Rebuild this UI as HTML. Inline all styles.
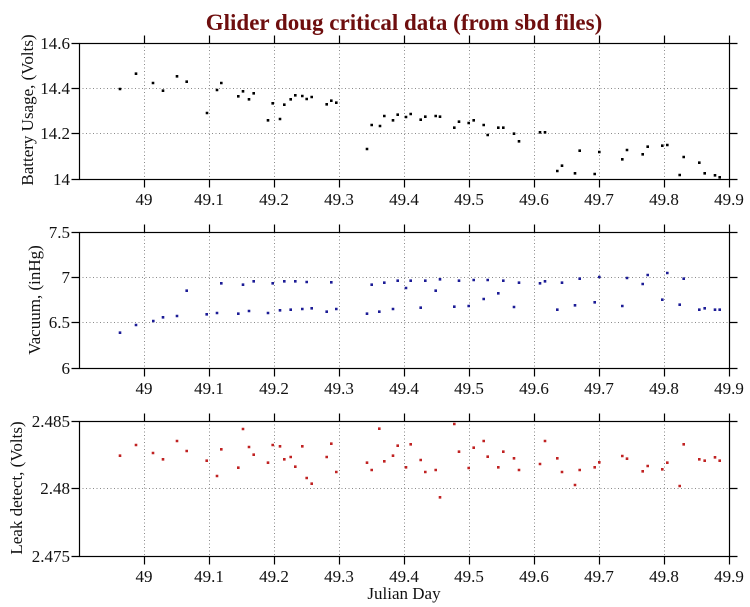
<!DOCTYPE html>
<html><head><meta charset="utf-8"><style>
html,body{margin:0;padding:0;background:#fff;}
svg{display:block;}
text{font-family:"Liberation Serif",serif;fill:#111;}
</style></head><body>
<svg width="750" height="607" viewBox="0 0 750 607" xmlns="http://www.w3.org/2000/svg">
<rect width="750" height="607" fill="#fff"/>
<text x="404" y="30" text-anchor="middle" font-size="23" font-weight="bold" style="fill:#6e0e0e">Glider doug critical data (from sbd files)</text>

<!-- grids -->
<g stroke="#8a8a8a" stroke-width="1" stroke-dasharray="1 2.5" fill="none">
<path d="M144.5 43V179M209.5 43V179M274.5 43V179M339.5 43V179M404.5 43V179M469.5 43V179M534.5 43V179M599.5 43V179M664.5 43V179M79 88.5H729M79 133.5H729"/>
<path d="M144.5 232.5V368.5M209.5 232.5V368.5M274.5 232.5V368.5M339.5 232.5V368.5M404.5 232.5V368.5M469.5 232.5V368.5M534.5 232.5V368.5M599.5 232.5V368.5M664.5 232.5V368.5M79 277.5H729M79 322.5H729"/>
<path d="M144.5 421V556M209.5 421V556M274.5 421V556M339.5 421V556M404.5 421V556M469.5 421V556M534.5 421V556M599.5 421V556M664.5 421V556M79 488.5H729"/>
</g>

<!-- frames and ticks -->
<g stroke="#000" stroke-width="1.2" fill="none">
<rect x="79.5" y="43.5" width="650" height="136"/>
<path d="M144.5 43.5v-8M209.5 43.5v-8M274.5 43.5v-8M339.5 43.5v-8M404.5 43.5v-8M469.5 43.5v-8M534.5 43.5v-8M599.5 43.5v-8M664.5 43.5v-8M729.5 43.5v-8
M144.5 179.5v8M209.5 179.5v8M274.5 179.5v8M339.5 179.5v8M404.5 179.5v8M469.5 179.5v8M534.5 179.5v8M599.5 179.5v8M664.5 179.5v8M729.5 179.5v8
M79.5 43.5h-8M79.5 88.5h-8M79.5 133.5h-8M79.5 179.5h-8M729.5 43.5h8M729.5 88.5h8M729.5 133.5h8M729.5 179.5h8"/>
<rect x="79.5" y="232.5" width="650" height="136"/>
<path d="M144.5 232.5v-8M209.5 232.5v-8M274.5 232.5v-8M339.5 232.5v-8M404.5 232.5v-8M469.5 232.5v-8M534.5 232.5v-8M599.5 232.5v-8M664.5 232.5v-8M729.5 232.5v-8
M144.5 368.5v8M209.5 368.5v8M274.5 368.5v8M339.5 368.5v8M404.5 368.5v8M469.5 368.5v8M534.5 368.5v8M599.5 368.5v8M664.5 368.5v8M729.5 368.5v8
M79.5 232.5h-8M79.5 277.5h-8M79.5 322.5h-8M79.5 368.5h-8M729.5 232.5h8M729.5 277.5h8M729.5 322.5h8M729.5 368.5h8"/>
<rect x="79.5" y="421.5" width="650" height="135"/>
<path d="M144.5 421.5v-8M209.5 421.5v-8M274.5 421.5v-8M339.5 421.5v-8M404.5 421.5v-8M469.5 421.5v-8M534.5 421.5v-8M599.5 421.5v-8M664.5 421.5v-8M729.5 421.5v-8
M144.5 556.5v8M209.5 556.5v8M274.5 556.5v8M339.5 556.5v8M404.5 556.5v8M469.5 556.5v8M534.5 556.5v8M599.5 556.5v8M664.5 556.5v8M729.5 556.5v8
M79.5 421.5h-8M79.5 488.5h-8M79.5 556.5h-8M729.5 421.5h8M729.5 488.5h8M729.5 556.5h8"/>
</g>

<!-- y tick labels -->
<g font-size="17" text-anchor="end">
<text x="70" y="49">14.6</text><text x="70" y="94">14.4</text><text x="70" y="139">14.2</text><text x="70" y="185">14</text>
<text x="70" y="238">7.5</text><text x="70" y="283">7</text><text x="70" y="328">6.5</text><text x="70" y="374">6</text>
<text x="70" y="427">2.485</text><text x="70" y="494">2.48</text><text x="70" y="562">2.475</text>
</g>

<!-- x tick labels -->
<g font-size="17" text-anchor="middle">
<text x="144" y="205">49</text><text x="209" y="205">49.1</text><text x="274" y="205">49.2</text><text x="339" y="205">49.3</text><text x="404" y="205">49.4</text><text x="469" y="205">49.5</text><text x="534" y="205">49.6</text><text x="599" y="205">49.7</text><text x="664" y="205">49.8</text><text x="729" y="205">49.9</text>
<text x="144" y="394">49</text><text x="209" y="394">49.1</text><text x="274" y="394">49.2</text><text x="339" y="394">49.3</text><text x="404" y="394">49.4</text><text x="469" y="394">49.5</text><text x="534" y="394">49.6</text><text x="599" y="394">49.7</text><text x="664" y="394">49.8</text><text x="729" y="394">49.9</text>
<text x="144" y="582">49</text><text x="209" y="582">49.1</text><text x="274" y="582">49.2</text><text x="339" y="582">49.3</text><text x="404" y="582">49.4</text><text x="469" y="582">49.5</text><text x="534" y="582">49.6</text><text x="599" y="582">49.7</text><text x="664" y="582">49.8</text><text x="729" y="582">49.9</text>
<text x="404" y="599">Julian Day</text>
</g>

<!-- axis labels -->
<g font-size="17" text-anchor="middle">
<text transform="translate(33,110) rotate(-90)">Battery Usage, (Volts)</text>
<text transform="translate(40,300) rotate(-90)">Vacuum, (inHg)</text>
<text transform="translate(22,488) rotate(-90)">Leak detect, (Volts)</text>
</g>

<!-- data -->
<g fill="none" stroke-linecap="square" stroke-width="2.6">
<path stroke="#000" d="M120 89h0M136 73.7h0M153 83h0M163 90.7h0M177 76.3h0M186.7 81.7h0M207 113h0M217 90h0M221.3 83h0M238.3 96.3h0M243 91.3h0M249 99.3h0M253.7 93.3h0M268 120.3h0M272.7 103.3h0M280 119h0M284.3 104.7h0M290.7 99.3h0M295.3 95.3h0M302.3 96h0M306.7 99h0M311.7 97h0M326.7 104.3h0M331.3 100.7h0M336.3 102.7h0M367 149h0M371.7 125h0M380 126h0M384.3 116h0M393 120.3h0M397.7 114.7h0M406 117h0M410.7 114h0M420.7 119.7h0M425.3 116.7h0M435.7 116h0M440 116.7h0M454.3 127.7h0M459 121.7h0M468.7 123h0M473.7 120.3h0M483.7 125h0M487.7 135h0M498.3 127.7h0M503.3 127.7h0M514 133.7h0M519 141.3h0M540 132.3h0M545 132.3h0M557.3 171h0M562 165.7h0M575 173.3h0M579.7 150.7h0M594.7 174h0M599.3 152h0M622.3 159.3h0M627 150h0M642.7 154.3h0M647.7 146.7h0M662.3 145.7h0M667.3 145h0M679.7 175h0M683.7 157h0M699.3 162.7h0M704.7 173.3h0M715 175.3h0M719.7 177.3h0"/>
<path stroke="#1c1c96" d="M120 332.7h0M136 325h0M153.3 321h0M163 317.3h0M177 316h0M186.7 290.7h0M206.7 314.3h0M217 313h0M221.3 283.3h0M238.3 313.7h0M243 284.7h0M249 311h0M253.7 281.3h0M268 313h0M272.7 283.3h0M280 310.3h0M284.3 281.3h0M290.7 309.7h0M295.3 281.3h0M302.3 309h0M306.7 282h0M311.7 308.3h0M326.7 311.7h0M331.3 282.3h0M336.3 309h0M367 313.7h0M371.7 284.7h0M379.3 311.7h0M384.3 282.7h0M393 309h0M397.7 280.7h0M406 288h0M410.7 280.7h0M420.7 307.7h0M425.3 280.7h0M435.7 290.7h0M440 279.3h0M454.3 306.7h0M459 280.7h0M468.7 306h0M473.7 280h0M483.7 299h0M487.7 280h0M498.3 293.3h0M503.3 280.7h0M514 307h0M519 282.7h0M540 283.3h0M545 281.3h0M557.3 309.7h0M562 282.7h0M575 305.3h0M579.7 278.7h0M594.7 302.3h0M599.3 277h0M622.3 306h0M627 278h0M642.7 284h0M647.7 275h0M662.3 299.7h0M667.3 273h0M679.7 304.7h0M683.7 278.7h0M699.3 309.7h0M704.7 308.3h0M715 309.7h0M719.7 309.7h0"/>
<path stroke="#c02222" d="M120 455.7h0M136 445h0M153 453h0M163 459.3h0M177 441h0M186.7 451h0M206.7 460.7h0M217 476h0M221.3 449.3h0M238.3 467.7h0M243 429h0M249 447h0M253.7 454.7h0M268 462.7h0M272.7 445h0M280 446.3h0M284.3 459.3h0M290.7 457h0M295.3 466.7h0M302.3 446.3h0M306.7 478h0M311.7 483.7h0M326.7 457h0M331.3 443.7h0M336.3 472h0M367 462.7h0M371.7 470h0M379.3 428.7h0M384.3 461.3h0M393 455.7h0M397.7 445.7h0M406 467.3h0M410.7 444.3h0M420.7 460h0M425.3 472h0M435.7 470h0M440 497.3h0M454.3 424h0M459 451.7h0M468.7 468h0M473.7 447.7h0M483.7 441h0M487.7 456.7h0M498.3 467.3h0M503.3 451.7h0M514 458.3h0M519 470h0M540 464h0M545 441h0M557.3 458.3h0M562 472h0M575 485h0M579.7 470h0M594.7 467.3h0M599.3 462.3h0M622.3 456h0M627 458.7h0M642.7 471.3h0M647.7 466h0M662.3 469.3h0M667.3 462.7h0M679.7 486h0M683.7 444.3h0M699.3 459.3h0M704.7 460.7h0M715 457.3h0M719.7 460.7h0"/>
</g>
</svg>
</body></html>
